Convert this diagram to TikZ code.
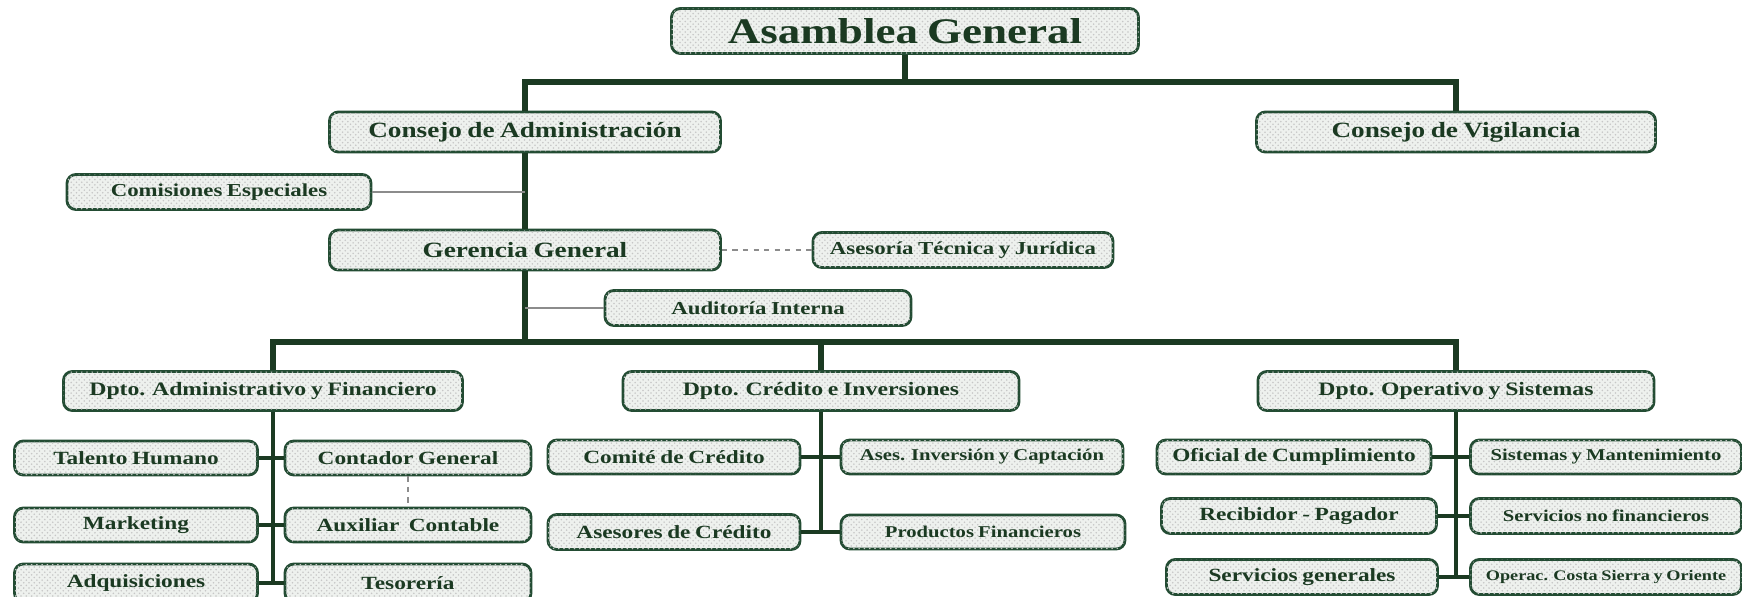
\documentclass[tikz,border=0pt]{standalone}
\usepackage{fontspec}
\setmainfont{Liberation Serif}[FakeStretch=1.25, WordSpace=0.8]
\usetikzlibrary{positioning,patterns}

\definecolor{verde}{HTML}{1B3A22}
\definecolor{borde}{HTML}{234C33}
\definecolor{fondo}{HTML}{EEF1EE}

\begin{document}
\begin{tikzpicture}[x=0.02cm, y=-0.02cm,
    caja/.style={draw=borde, line width=1.6pt, rounded corners=5pt, fill=fondo,
                 postaction={pattern=crosshatch dots, pattern color=black!22},
                 text=verde, inner sep=0pt},
    ancho/.style={minimum width=#1*0.02cm},
    alto/.style={minimum height=#1*0.02cm},
    grande/.style={font=\fontsize{20.5}{24}\selectfont\bfseries},
    medio/.style={font=\fontsize{12.4}{15}\selectfont\bfseries},
    dpto/.style={font=\fontsize{10.8}{13}\selectfont\bfseries},
    chico/.style={font=\fontsize{10.4}{12}\selectfont\bfseries},
    fila/.style={font=\fontsize{10.6}{12}\selectfont\bfseries},
    mini/.style={font=\fontsize{9.4}{11}\selectfont\bfseries},
    micro/.style={font=\fontsize{8.3}{10}\selectfont\bfseries},
    tronco/.style={draw=verde, line width=2.9pt},
    rama/.style={draw=verde, line width=2pt},
    apoyo/.style={draw=black!45, line width=0.8pt}]
\useasboundingbox (0,0) rectangle (1742,596);

% niveles superiores
\node[caja, grande, ancho=467, alto=45] (asamblea) at (905,31) {Asamblea General};
\node[caja, medio, ancho=391, alto=40] (consejo) at (525,132) {Consejo de Administración};
\node[caja, medio, ancho=399, alto=40] (vigilancia) at (1456,132) {Consejo de Vigilancia};
\node[caja, chico, ancho=304, alto=35] (comisiones) at (219,192) {Comisiones Especiales};
\node[caja, medio, ancho=391, alto=40] (gerencia) at (525,250) {Gerencia General};
\node[caja, chico, ancho=300, alto=35] (asesoria) at (963,250) {Asesoría Técnica y Jurídica};
\node[caja, chico, ancho=306, alto=35] (auditoria) at (758,308) {Auditoría Interna};

\coordinate (bar1) at (0,82);
\coordinate (bar2) at (0,342);
\coordinate (ejeadm) at (273,0);

% departamentos
\node[caja, dpto, ancho=399, alto=39] (dadm) at (263,391) {Dpto. Administrativo y Financiero};
\node[caja, dpto, ancho=396, alto=39] (dcred) at (821,391) {Dpto. Crédito e Inversiones};
\node[caja, dpto, ancho=396, alto=39] (doper) at (1456,391) {Dpto. Operativo y Sistemas};

% administrativo y financiero
\node[caja, fila, ancho=243, alto=34] (talento) at (136,458) {Talento Humano};
\node[caja, fila, ancho=246, alto=34] (contador) at (408,458) {Contador General};
\node[caja, fila, ancho=243, alto=34] (marketing) at (136,525) {Marketing};
\node[caja, fila, ancho=246, alto=34] (auxiliar) at (408,525) {Auxiliar~ Contable};
\node[caja, fila, ancho=243, alto=38] (adquisiciones) at (136,583) {Adquisiciones};
\node[caja, fila, ancho=246, alto=38] (tesoreria) at (408,583) {Tesorería};

% credito e inversiones
\node[caja, fila, ancho=252, alto=34] (comite) at (674,457) {Comité de Crédito};
\node[caja, mini, ancho=282, alto=34] (asesinv) at (982,457) {Ases. Inversión y Captación};
\node[caja, fila, ancho=252, alto=35] (asesores) at (674,532) {Asesores de Crédito};
\node[caja, mini, ancho=284, alto=34] (productos) at (983,532) {Productos Financieros};

% operativo y sistemas
\node[caja, fila, ancho=274, alto=34] (oficial) at (1294,457) {Oficial de Cumplimiento};
\node[caja, mini, ancho=271, alto=34] (sistemas) at (1606,457) {Sistemas y Mantenimiento};
\node[caja, fila, ancho=275, alto=35] (recibidor) at (1299,516) {Recibidor - Pagador};
\node[caja, mini, ancho=271, alto=35] (servnofin) at (1606,516) {Servicios no financieros};
\node[caja, fila, ancho=271, alto=35] (servgen) at (1302,577) {Servicios generales};
\node[caja, micro, ancho=271, alto=35] (operac) at (1606,577) {Operac. Costa Sierra y Oriente};

% lineas de mando
\draw[tronco] (asamblea.south) -- (asamblea.south |- bar1);
\draw[tronco] (consejo.north) |- (vigilancia.north |- bar1) -- (vigilancia.north);
\draw[tronco] (consejo.south) -- (gerencia.north);
\draw[tronco] (gerencia.south) -- (gerencia.south |- bar2);
\draw[tronco] (ejeadm |- dadm.north) |- (doper.north |- bar2) -- (doper.north);
\draw[tronco] (dcred.north) -- (dcred.north |- bar2);

% apoyo
\draw[apoyo] (comisiones.east) -- (comisiones.east -| consejo.south);
\draw[apoyo, dashed] (gerencia.east) -- (asesoria.west);
\draw[apoyo] (auditoria.west) -- (auditoria.west -| gerencia.south);

% ramas
\draw[rama] (ejeadm |- dadm.south) -- (ejeadm |- adquisiciones);
\draw[rama] (talento.east) -- (contador.west);
\draw[rama] (marketing.east) -- (auxiliar.west);
\draw[rama] (adquisiciones.east) -- (tesoreria.west);
\draw[apoyo, dashed, line width=0.6pt] (contador.south) -- (auxiliar.north);

\draw[rama] (dcred.south) -- (dcred.south |- asesores);
\draw[rama] (comite.east) -- (asesinv.west);
\draw[rama] (asesores.east) -- (productos.west);

\draw[rama] (doper.south) -- (doper.south |- servgen);
\draw[rama] (oficial.east) -- (sistemas.west);
\draw[rama] (recibidor.east) -- (servnofin.west);
\draw[rama] (servgen.east) -- (operac.west);
\end{tikzpicture}
\end{document}
